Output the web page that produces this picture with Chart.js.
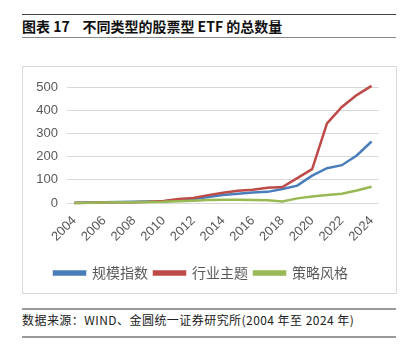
<!DOCTYPE html>
<html>
<head>
<meta charset="utf-8">
<script src="https://cdn.jsdelivr.net/npm/chart.js@4.4.0/dist/chart.umd.min.js"></script>
<style>
body{margin:0;background:#fff;width:412px;height:351px;position:relative;overflow:hidden;font-family:"Noto Sans CJK SC","Noto Sans",sans-serif}
.rule{position:absolute;left:22px;width:374px}
#title{position:absolute;left:22px;top:16px;font-size:14px;font-weight:bold;color:#111;line-height:21px;white-space:pre}
#src{position:absolute;left:22px;top:311px;font-size:12px;letter-spacing:0.45px;color:#222;line-height:18px;white-space:pre}
#box{position:absolute;left:22px;top:66px;width:373px;height:226px;border:1px solid #d9d9d9}
</style>
</head>
<body>
<div class="rule" style="top:14px;border-top:1px solid #444"></div>
<div id="title">图表 17    不同类型的股票型 ETF 的总数量</div>
<div class="rule" style="top:37px;border-top:1.5px solid #888"></div>
<div id="box"><canvas id="c"></canvas></div>
<div class="rule" style="top:308px;border-top:2px solid #999"></div>
<div id="src">数据来源：WIND、金圆统一证券研究所(2004 年至 2024 年)</div>
<div class="rule" style="top:336px;border-top:2px solid #999"></div>
<script>
const years = ['2004','2005','2006','2007','2008','2009','2010','2011','2012','2013','2014','2015','2016','2017','2018','2019','2020','2021','2022','2023','2024'];
const scaleIdx = [1,2,3,4,5,6,8,12,17,26,34,40,45,48,60,75,118,150,163,205,265];
const industry = [0,1,2,3,3,5,9,17,22,34,44,53,57,66,69,107,146,343,414,465,505];
const strategy = [0,1,2,3,3,4,5,8,10,13,14,14,13,12,7,20,28,34,40,54,70];
const seriesNames = ['规模指数','行业主题','策略风格'];
const colors = ['#4A7EBB','#BE4B48','#98B954'];

const mk = (i,data,order)=>({label:seriesNames[i],data,borderColor:colors[i],backgroundColor:colors[i],borderWidth:2.5,pointRadius:0,tension:0,order,clip:false});
new Chart(document.getElementById('c'),{
  type:'line',
  data:{labels:years,datasets:[mk(0,scaleIdx,3),mk(1,industry,2),mk(2,strategy,1)]},
  options:{
    responsive:true,maintainAspectRatio:false,animation:false,
    layout:{padding:{top:20,right:17,left:0,bottom:3}},
    plugins:{
      tooltip:{enabled:false},
      legend:{position:'bottom',labels:{boxWidth:31,boxHeight:3,padding:6,color:'#595959',font:{size:14,family:'"Noto Sans CJK SC",sans-serif'},sort:(a,b)=>a.datasetIndex-b.datasetIndex}}
    },
    scales:{
      x:{
        offset:true,
        grid:{display:false},border:{display:false},
        ticks:{autoSkip:false,minRotation:45,maxRotation:45,color:'#595959',font:{size:13,family:'"Liberation Sans",sans-serif'},padding:2,
          callback:function(v,i){return i%2===0?years[i]:''}},
        afterFit:s=>{s.height=57}
      },
      y:{
        min:0,max:500,
        grid:{color:'#d9d9d9',drawTicks:false},border:{display:false},
        ticks:{stepSize:100,color:'#595959',font:{size:13,family:'"Liberation Sans",sans-serif'},padding:9},
        afterFit:s=>{s.width=44}
      }
    }
  }
});
</script>
</body>
</html>
